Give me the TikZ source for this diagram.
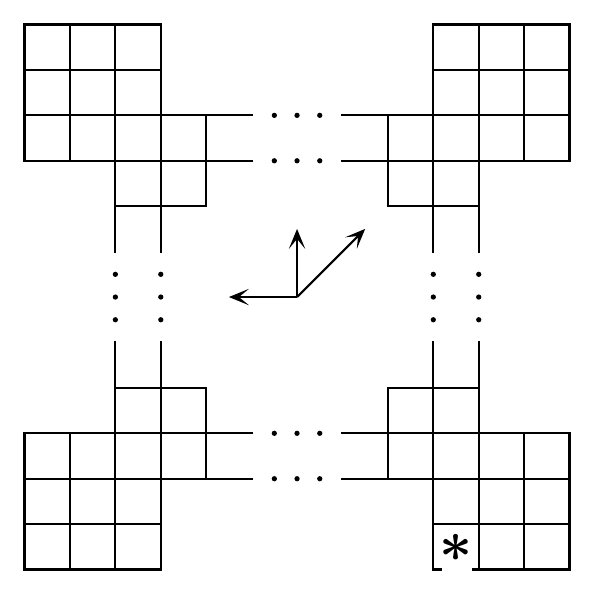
\documentclass[tikz,border=0pt]{standalone}
\usetikzlibrary{arrows.meta}
\begin{document}
\begin{tikzpicture}[
  gl/.style={line width=1.4pt, line cap=rect},
  dotc/.style={fill=black},
  vec/.style={line width=1.4pt, -{Stealth[length=0.44cm,width=0.36cm,inset=0.22cm]}}
]
\useasboundingbox (-0.54,-0.56) rectangle (12.56,12.54);
% top-left block
\foreach \x in {0,1,2} \foreach \y in {10,11} \draw[gl] (\x,\y) rectangle ++(1,1);
\foreach \x in {0,1,2,3} \draw[gl] (\x,9) rectangle ++(1,1);
\foreach \x in {2,3} \draw[gl] (\x,8) rectangle ++(1,1);
% top-right block
\foreach \x in {9,10,11} \foreach \y in {10,11} \draw[gl] (\x,\y) rectangle ++(1,1);
\foreach \x in {8,9,10,11} \draw[gl] (\x,9) rectangle ++(1,1);
\foreach \x in {8,9} \draw[gl] (\x,8) rectangle ++(1,1);
% bottom-left block
\foreach \x in {0,1,2} \foreach \y in {0,1} \draw[gl] (\x,\y) rectangle ++(1,1);
\foreach \x in {0,1,2,3} \draw[gl] (\x,2) rectangle ++(1,1);
\foreach \x in {2,3} \draw[gl] (\x,3) rectangle ++(1,1);
% bottom-right block
\foreach \x in {10,11} \foreach \y in {0,1} \draw[gl] (\x,\y) rectangle ++(1,1);
\draw[gl] (9,1) rectangle ++(1,1);
\foreach \x in {8,9,10,11} \draw[gl] (\x,2) rectangle ++(1,1);
\foreach \x in {8,9} \draw[gl] (\x,3) rectangle ++(1,1);
% special cell with asterisk
\draw[gl] (9.16,0) -- (9,0) -- (9,1);
\draw[gl] (9.88,0) -- (10,0);
\node (star) at (9.5,0.47) {\scalebox{2.5}{\Large\boldmath$\ast$}};
% horizontal stubs
\foreach \y in {10,9,3,2} {
  \draw[gl] (4,\y) -- (5,\y);
  \draw[gl] (7,\y) -- (8,\y);
  \foreach \x in {5.5,6,6.5} \fill[dotc] (\x,\y) circle (0.058);
}
% vertical stubs
\foreach \x in {2,3,9,10} {
  \draw[gl] (\x,8) -- (\x,7);
  \draw[gl] (\x,4) -- (\x,5);
  \foreach \y in {5.5,6,6.5} \fill[dotc] (\x,\y) circle (0.058);
}
% vectors
\coordinate (O) at (6,6);
\coordinate (U) at (6,7.5);
\coordinate (L) at (4.5,6);
\coordinate (D) at (7.5,7.5);
\draw[vec] (O) -- (U);
\draw[vec] (O) -- (L);
\draw[vec] (O) -- (D);
\end{tikzpicture}
\end{document}
